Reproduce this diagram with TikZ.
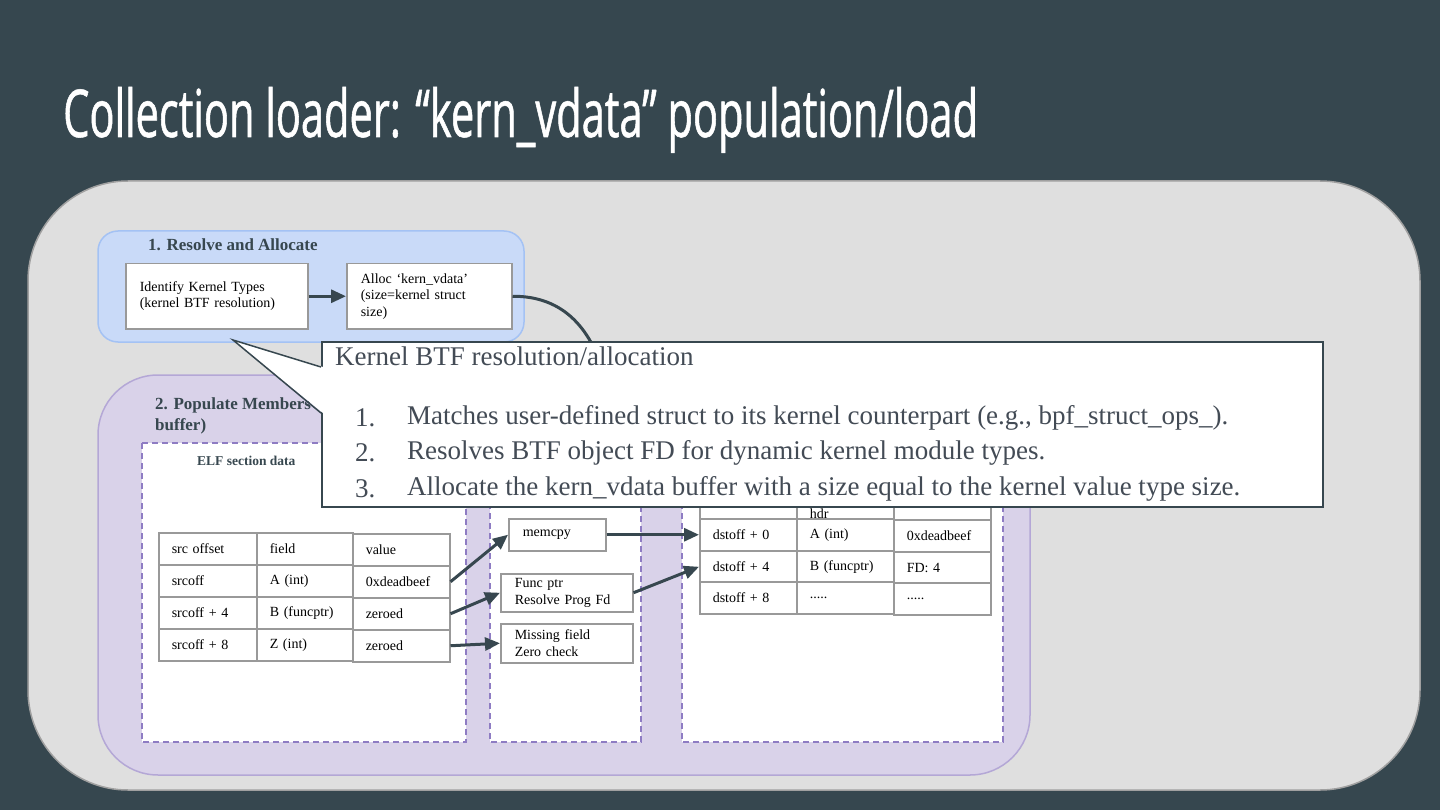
\documentclass[tikz,border=0pt]{standalone}
\usepackage{fontspec}
\setmainfont{Liberation Serif}
\newfontfamily\titlefont[FakeStretch=0.63,FakeBold=0.8]{Open Sans}
\usetikzlibrary{arrows.meta}
\definecolor{bgslate}{RGB}{54,71,79}
\definecolor{panelgray}{RGB}{223,223,223}
\definecolor{panelborder}{RGB}{160,160,160}
\definecolor{grpblue}{RGB}{201,218,248}
\definecolor{grpblueb}{RGB}{164,194,244}
\definecolor{grppurple}{RGB}{217,210,233}
\definecolor{grppurpleb}{RGB}{180,167,214}
\definecolor{dashpurple}{RGB}{142,124,195}
\definecolor{cellgray}{RGB}{153,153,153}
\definecolor{arrowslate}{RGB}{55,71,79}
\definecolor{calltext}{RGB}{67,75,85}
\tikzset{
  grplabel/.style={font=\fontsize{17}{20}\selectfont\bfseries, text=arrowslate, inner sep=0pt, anchor=west, align=left},
  procbox/.style={draw=cellgray, fill=white, line width=1.5pt, anchor=north west, inner xsep=14pt, inner ysep=0pt, align=left, font=\fontsize{14}{16.5}\selectfont},
  cell/.style={draw=cellgray, fill=white, line width=1.5pt, anchor=north west, inner xsep=13pt, inner ysep=0pt, minimum height=32pt, align=left, font=\fontsize{14}{16.5}\selectfont},
  dpanel/.style={draw=dashpurple, fill=white, line width=1.5pt, dash pattern=on 6pt off 4pt},
  arr/.style={draw=arrowslate, line width=3pt, -{Triangle[length=15pt,width=13pt]}},
  calltxt/.style={font=\fontsize{27}{32}\selectfont, text=calltext, inner sep=0pt, anchor=west}
}
\begin{document}
\begin{tikzpicture}[x=1pt,y=-1pt]
\useasboundingbox (0,0) rectangle (1440,810);
\fill[bgslate] (0,0) rectangle (1440,810);
% title
\node[anchor=base west, inner sep=0pt, text=white, font=\titlefont\fontsize{66}{70}\selectfont] (title) at (63,137) {Collection loader: “kern\_vdata” population/load};
% main panel
\draw[panelborder, fill=panelgray, line width=1.5pt, rounded corners=100pt] (28,181) rectangle (1420,790);
% group 1
\draw[grpblueb, fill=grpblue, line width=1.5pt, rounded corners=20pt] (98,231) rectangle (524,342);
\node[grplabel] (g1lab) at (148,245) {1. Resolve and Allocate};
\node[procbox, minimum width=182pt, minimum height=65pt, text width=154pt] (b1) at (125,263) {Identify Kernel Types\\(kernel BTF resolution)};
\node[procbox, minimum width=165pt, minimum height=65pt, text width=137pt] (b2) at (346,263) {Alloc ‘kern\_vdata’\\(size=kernel struct\\size)};
\draw[arr] (b1.east) -- (b2.west);
% group 2
\draw[grppurpleb, fill=grppurple, line width=1.5pt, rounded corners=60pt] (98,375) rectangle (1030,775);
\node[grplabel] (g2lab) at (155,405) {2. Populate Members};
\node[grplabel] (g2lab2) at (155,426) {buffer)};
\coordinate (curveend) at (606,380);
\draw[arrowslate, line width=3pt] (b2.east) .. controls (565,296) and (592,330) .. (curveend);
% dashed panels
\draw[dpanel] (142,443) rectangle (466,742);
\draw[dpanel] (490,443) rectangle (641,742);
\draw[dpanel] (682,443) rectangle (1003,742);
\node[font=\fontsize{13.5}{16}\selectfont\bfseries, text=arrowslate, inner sep=0pt, anchor=west] (elf) at (197,461) {ELF section data};
% table 1
\node[cell, minimum width=98pt, text width=72pt] (t1h1) at (158,532) {src offset};
\node[cell, minimum width=96pt, text width=70pt] (t1h2) at (256,532) {field};
\node[cell, minimum width=97pt, text width=71pt] (t1h3) at (352,533) {value};
\node[cell, minimum width=98pt, text width=72pt] (t1a1) at (158,564) {srcoff};
\node[cell, minimum width=96pt, text width=70pt] (t1a2) at (256,564) {A (int)};
\node[cell, minimum width=97pt, text width=71pt] (t1a3) at (352,565) {0xdeadbeef};
\node[cell, minimum width=98pt, text width=72pt] (t1b1) at (158,596) {srcoff + 4};
\node[cell, minimum width=96pt, text width=70pt] (t1b2) at (256,596) {B (funcptr)};
\node[cell, minimum width=97pt, text width=71pt] (t1b3) at (352,597) {zeroed};
\node[cell, minimum width=98pt, text width=72pt] (t1c1) at (158,628) {srcoff + 8};
\node[cell, minimum width=96pt, text width=70pt] (t1c2) at (256,628) {Z (int)};
\node[cell, minimum width=97pt, text width=71pt] (t1c3) at (352,629) {zeroed};
% middle boxes
\node[procbox, minimum width=97pt, minimum height=32pt, text width=69pt] (mem) at (508,518) {\raisebox{-2pt}{memcpy}};
\node[procbox, minimum width=132pt, minimum height=38pt, text width=104pt, inner xsep=13pt] (fp) at (500,573) {Func ptr\\Resolve Prog Fd};
\node[procbox, minimum width=132pt, minimum height=39pt, text width=104pt, inner xsep=13pt] (mf) at (500,623) {Missing field\\Zero check};
% right table
\node[cell, minimum width=97pt, text width=71pt] (t2h1) at (699,486) {};
\node[cell, minimum width=97pt, text width=71pt] (t2h2) at (796,486) {\raisebox{-16pt}[0pt][0pt]{hdr}};
\node[cell, minimum width=97pt, text width=71pt] (t2h3) at (893,487) {};
\node[cell, minimum width=97pt, text width=71pt] (t2a1) at (699,518) {dstoff + 0};
\node[cell, minimum width=97pt, text width=71pt] (t2a2) at (796,518) {A (int)};
\node[cell, minimum width=97pt, text width=71pt] (t2a3) at (893,519) {0xdeadbeef};
\node[cell, minimum width=97pt, text width=71pt] (t2b1) at (699,550) {dstoff + 4};
\node[cell, minimum width=97pt, text width=71pt] (t2b2) at (796,550) {B (funcptr)};
\node[cell, minimum width=97pt, text width=71pt] (t2b3) at (893,551) {FD: 4};
\node[cell, minimum width=97pt, text width=71pt] (t2c1) at (699,581) {dstoff + 8};
\node[cell, minimum width=97pt, text width=71pt] (t2c2) at (796,581) {.....};
\node[cell, minimum width=97pt, text width=71pt] (t2c3) at (893,582) {.....};
% arrows
\draw[arr] (t1a3.east) -- (mem.west);
\draw[arr] (t1b3.east) -- (fp.west);
\draw[arr] (t1c3.east) -- (mf.west);
\draw[arr] (mem.east) -- (t2a1.west);
\draw[arr] (fp.east) -- (t2b1.west);
% callout
\node[draw=arrowslate, fill=white, line width=1.5pt, anchor=north west, minimum width=1001pt, minimum height=165pt, inner sep=0pt] (callout) at (321,341) {};
\coordinate (tip) at (233,340);
\coordinate (wa) at (321,367);
\coordinate (wb) at (321,413);
\fill[white] (tip) -- ([xshift=2pt]wa) -- ([xshift=2pt]wb) -- cycle;
\draw[arrowslate, line width=1.5pt] (wa) -- (tip) -- (wb);
\node[calltxt] (ctitle) at (335,356) {Kernel BTF resolution/allocation};
\node[calltxt] (n1) at (355,418) {1.};
\node[calltxt] (n2) at (355,453) {2.};
\node[calltxt] (n3) at (355,489) {3.};
\node[calltxt] (l1) at (407,418) {Matches user-defined struct to its kernel counterpart (e.g., bpf\_struct\_ops\_).};
\node[calltxt] (l2) at (407,453) {Resolves BTF object FD for dynamic kernel module types.};
\node[calltxt] (l3) at (407,489) {Allocate the kern\_vdata buffer with a size equal to the kernel value type size.};
\end{tikzpicture}
\end{document}
